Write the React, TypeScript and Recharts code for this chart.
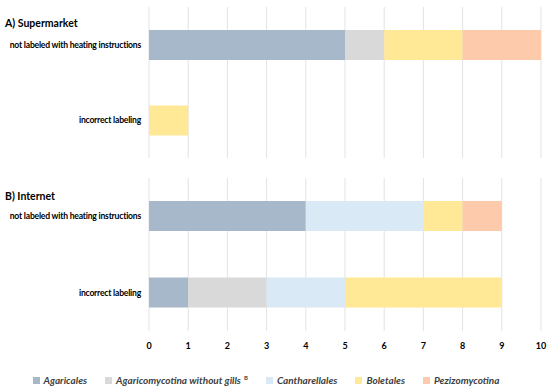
import React from 'react';
import { BarChart, Bar, XAxis, YAxis, CartesianGrid } from 'recharts';

// categories and series
const groups = ['Agaricales', 'Agaricomycotina without gills', 'Cantharellales', 'Boletales', 'Pezizomycotina'];
const colors = ['#a8b8cb', '#d9d9d9', '#d9e9f6', '#ffe896', '#fdcbac'];
const rowLabels = ['not labeled with heating instructions', 'incorrect labeling'];

const supermarketValues = [
  [5, 1, 0, 2, 2],
  [0, 0, 0, 1, 0],
];
const internetValues = [
  [4, 0, 3, 1, 1],
  [1, 2, 2, 4, 0],
];
const xTicks = [0, 1, 2, 3, 4, 5, 6, 7, 8, 9, 10];

const FONT = 'Lato, "Open Sans", sans-serif';

const buildRows = (values: number[][]) =>
  rowLabels.map((label, r) => {
    const row: { [key: string]: string | number } = { label };
    groups.forEach((g, i) => {
      row[g] = values[r][i];
    });
    return row;
  });

const supermarketData = buildRows(supermarketValues);
const internetData = buildRows(internetValues);

// single-line category label, right aligned against the plot
const RowTick = (props: any) => {
  const { x, y, payload } = props;
  return (
    <text
      x={x}
      y={y}
      textAnchor="end"
      dominantBaseline="central"
      fontFamily={FONT}
      fontSize={8.6}
      fontWeight={700}
      letterSpacing={-0.22}
      fill="#000"
    >
      {payload.value}
    </text>
  );
};

const Panel = ({
  data,
  showAxis,
  height,
  margin,
}: {
  data: { [key: string]: string | number }[];
  showAxis: boolean;
  height: number;
  margin: { top: number; right: number; bottom: number; left: number };
}) => (
  <BarChart width={550} height={height} data={data} layout="vertical" margin={margin} barCategoryGap={0}>
    <CartesianGrid horizontal={false} stroke="#e3e3e3" />
    <XAxis
      type="number"
      domain={[0, 10]}
      ticks={xTicks}
      hide={!showAxis}
      height={showAxis ? 24 : 0}
      axisLine={false}
      tickLine={false}
      tickSize={0}
      tickMargin={12}
      tick={{ fontFamily: FONT, fontSize: 9, fontWeight: 700, fill: '#000' }}
      interval={0}
    />
    <YAxis
      type="category"
      dataKey="label"
      width={149}
      axisLine={false}
      tickLine={false}
      tickSize={0}
      tickMargin={8}
      tick={<RowTick />}
    />
    {groups.map((g, i) => (
      <Bar key={g} dataKey={g} stackId="a" fill={colors[i]} barSize={30} isAnimationActive={false} />
    ))}
  </BarChart>
);

export default function App() {
  return (
    <div
      style={{
        position: 'absolute',
        left: 0,
        top: 0,
        width: 550,
        height: 391,
        background: '#fff',
        fontFamily: FONT,
      }}
    >
      <div style={{ position: 'absolute', left: 0, top: 0 }}>
        <Panel data={supermarketData} showAxis={false} height={165} margin={{ top: 7, right: 9, bottom: 7, left: 0 }} />
      </div>
      <div style={{ position: 'absolute', left: 0, top: 170 }}>
        <Panel data={internetData} showAxis={true} height={185} margin={{ top: 8, right: 9, bottom: 0, left: 0 }} />
      </div>
      <div style={{ position: 'absolute', left: 5, top: 17, fontSize: 10.5, fontWeight: 700, color: '#000' }}>
        A) Supermarket
      </div>
      <div style={{ position: 'absolute', left: 5, top: 190, fontSize: 10.5, fontWeight: 700, color: '#000' }}>
        B) Internet
      </div>
      <div
        style={{
          position: 'absolute',
          left: 0,
          top: 374,
          width: 532,
          display: 'flex',
          justifyContent: 'center',
          gap: 18,
          fontSize: 10,
          fontWeight: 700,
          fontStyle: 'italic',
          color: '#404040',
          whiteSpace: 'nowrap',
        }}
      >
        {groups.map((g, i) => (
          <div key={g} style={{ display: 'flex', alignItems: 'center', gap: 4 }}>
            <span style={{ width: 7, height: 7, background: colors[i], display: 'inline-block' }} />
            <span>
              {g}
              {i === 1 && <sup style={{ fontSize: 6, fontStyle: 'normal', marginLeft: 3 }}>B</sup>}
            </span>
          </div>
        ))}
      </div>
    </div>
  );
}
